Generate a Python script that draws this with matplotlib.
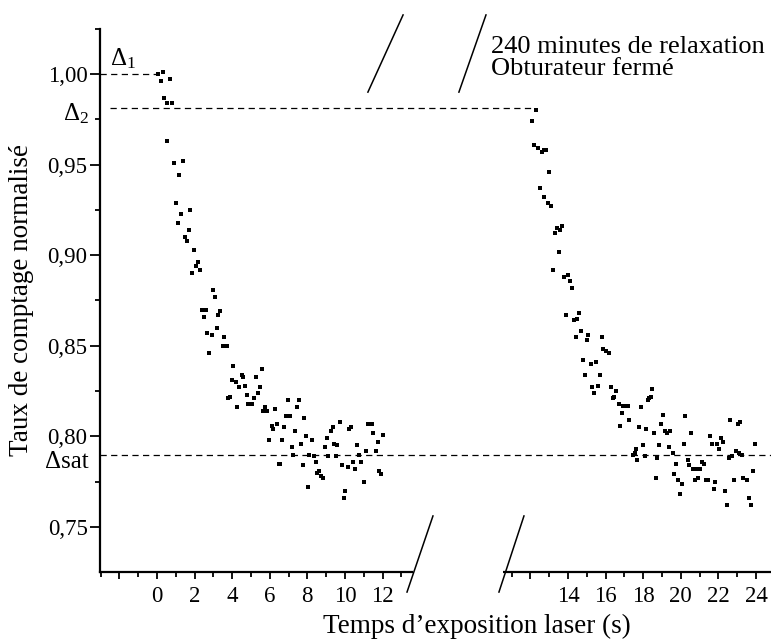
import numpy as np
import matplotlib
matplotlib.use("Agg")
import matplotlib.pyplot as plt
from matplotlib.ticker import FixedLocator, FixedFormatter

plt.rcParams['font.family'] = ['Liberation Serif', 'DejaVu Serif']
plt.rcParams['mathtext.fontset'] = 'custom'
plt.rcParams['mathtext.rm'] = 'Liberation Serif'
plt.rcParams['mathtext.it'] = 'Liberation Serif:italic'

# first exposure (s, normalised count rate)
x_first = [0.07, 0.30, 0.20, 0.69, 0.39, 0.55, 0.78, 0.51, 0.89, 1.40, 1.19, 0.99, 1.77, 1.28,
           1.10, 1.68, 1.49, 1.58, 1.99, 2.18, 2.07, 2.29, 1.88, 2.98, 3.09, 2.39, 2.59, 2.48,
           3.33, 3.26, 3.17, 2.68, 2.91, 3.56, 2.78, 3.49, 3.71, 4.06, 5.57, 3.97, 4.20, 4.50,
           4.59, 5.27, 4.68, 4.38, 5.48, 5.39, 4.77, 3.79, 3.88, 5.16, 4.86, 5.04, 4.27, 5.66,
           5.83, 5.74, 6.28, 6.98, 7.55, 7.46, 6.86, 7.07, 7.84, 6.10, 6.15, 6.37, 6.76, 7.34,
           5.96, 6.66, 7.93, 8.24, 7.16, 7.66, 7.25, 8.10, 8.37, 6.49, 6.54, 7.77, 8.44, 8.63,
           8.53, 8.71, 8.85, 8.05, 9.73, 9.34, 9.27, 9.03, 8.94, 9.41, 9.59, 9.11, 9.52, 10.30,
           10.23, 10.62, 10.73, 11.12, 9.86, 10.14, 10.44, 10.53, 10.84, 10.99, 10.02, 9.95,
           11.24, 11.42, 11.51, 12.00, 11.74, 11.63, 11.83, 11.91]
y_first = [1.000, 1.001, 0.996, 0.997, 0.987, 0.984, 0.984, 0.963, 0.951, 0.952, 0.944, 0.929,
           0.925, 0.923, 0.918, 0.914, 0.910, 0.908, 0.903, 0.896, 0.894, 0.892, 0.890, 0.881,
           0.877, 0.870, 0.870, 0.866, 0.869, 0.867, 0.860, 0.857, 0.856, 0.855, 0.846, 0.850,
           0.850, 0.839, 0.837, 0.831, 0.830, 0.834, 0.833, 0.833, 0.828, 0.827, 0.827, 0.824,
           0.823, 0.821, 0.822, 0.821, 0.818, 0.818, 0.816, 0.814, 0.814, 0.816, 0.815, 0.820,
           0.820, 0.816, 0.811, 0.811, 0.810, 0.806, 0.804, 0.807, 0.805, 0.803, 0.798, 0.798,
           0.800, 0.798, 0.794, 0.796, 0.790, 0.790, 0.789, 0.785, 0.785, 0.784, 0.786, 0.781,
           0.780, 0.778, 0.777, 0.772, 0.808, 0.805, 0.803, 0.799, 0.794, 0.796, 0.795, 0.789,
           0.789, 0.805, 0.804, 0.795, 0.790, 0.792, 0.784, 0.783, 0.786, 0.782, 0.786, 0.775,
           0.770, 0.766, 0.807, 0.807, 0.802, 0.801, 0.797, 0.792, 0.781, 0.779]

# second exposure, after 240 min of relaxation
x_second = [12.30, 12.10, 12.19, 12.42, 12.60, 12.83, 12.72, 13.01, 12.51, 12.71, 12.92, 13.10,
            13.40, 13.66, 13.57, 13.31, 13.50, 13.19, 13.79, 13.98, 14.09, 14.21, 13.88, 14.59,
            14.48, 14.30, 14.69, 14.41, 15.05, 15.79, 14.99, 15.88, 16.02, 16.20, 14.78, 15.21,
            15.47, 14.90, 15.70, 15.29, 15.58, 15.40, 16.27, 16.55, 16.41, 16.46, 16.71, 17.03,
            17.21, 16.94, 16.87, 16.78, 17.26, 17.87, 18.45, 18.32, 18.41, 18.27, 17.78, 18.15,
            18.57, 19.07, 18.96, 19.18, 19.43, 19.29, 17.97, 17.64, 17.55, 17.46, 17.69, 18.10,
            18.86, 18.75, 19.36, 19.57, 18.66, 20.24, 20.54, 20.15, 19.76, 19.65, 19.87, 20.06,
            19.96, 20.37, 20.45, 20.63, 20.85, 21.02, 20.76, 20.94, 21.14, 21.25, 21.32, 21.43,
            21.75, 21.84, 21.55, 21.64, 21.94, 22.05, 22.15, 22.26, 22.63, 23.06, 23.16, 22.94,
            23.11, 23.24, 22.56, 22.72, 23.93, 22.33, 22.44, 22.83, 23.33, 23.50, 23.84, 23.63,
            23.73]
y_second = [0.980, 0.974, 0.961, 0.959, 0.957, 0.958, 0.958, 0.946, 0.937, 0.932, 0.929, 0.927,
            0.915, 0.916, 0.914, 0.912, 0.902, 0.892, 0.888, 0.889, 0.886, 0.882, 0.867, 0.868,
            0.865, 0.864, 0.858, 0.855, 0.856, 0.855, 0.853, 0.848, 0.847, 0.846, 0.842, 0.840,
            0.841, 0.834, 0.834, 0.827, 0.828, 0.824, 0.827, 0.825, 0.821, 0.822, 0.818, 0.817,
            0.817, 0.817, 0.813, 0.806, 0.809, 0.816, 0.826, 0.821, 0.822, 0.820, 0.805, 0.804,
            0.802, 0.812, 0.807, 0.803, 0.803, 0.802, 0.795, 0.793, 0.791, 0.790, 0.787, 0.789,
            0.795, 0.788, 0.794, 0.791, 0.777, 0.811, 0.802, 0.796, 0.785, 0.779, 0.776, 0.774,
            0.768, 0.787, 0.784, 0.782, 0.782, 0.782, 0.776, 0.777, 0.786, 0.785, 0.776, 0.776,
            0.771, 0.775, 0.800, 0.796, 0.796, 0.793, 0.799, 0.797, 0.809, 0.807, 0.808, 0.792,
            0.791, 0.790, 0.788, 0.789, 0.796, 0.770, 0.762, 0.776, 0.777, 0.776, 0.781, 0.766,
            0.762]

delta_1 = 1.000
delta_2 = 0.981
delta_sat = 0.790
delta_2_end = 12.14  # where the Δ2 line stops, second-exposure time

x_ticks_first = [-2, 0, 2, 4, 6, 8, 10, 12]
x_labels_first = ['', '0', '2', '4', '6', '8', '10', '12']
x_ticks_second = [12, 14, 16, 18, 20, 22, 24]
x_labels_second = ['', '14', '16', '18', '20', '22', '24']
y_ticks = [0.75, 0.80, 0.85, 0.90, 0.95, 1.00]
y_labels = ['0,75', '0,80', '0,85', '0,90', '0,95', '1,00']

# the second exposure is drawn shifted right to leave the break in the axis
GAP = 7.86
XMIN, XMAX = -3.03, 24.8 + GAP
YMIN, YMAX = 0.725, 1.025
AXIS_END_FIRST = 13.56
AXIS_START_SECOND = 10.54 + GAP

fig = plt.figure(figsize=(7.71, 6.41), dpi=100)
ax = fig.add_axes([100 / 771, 68.7 / 641, 671 / 771, 543.6 / 641])

xs = np.array(x_second) + GAP
ax.plot(x_first, y_first, 's', color='black', ms=2.9, mew=0)
ax.plot(xs, y_second, 's', color='black', ms=2.9, mew=0)

dash = dict(color='black', lw=0.9, linestyle=(0, (5, 3.5)))
ax.hlines(delta_1, XMIN, 0, **dash)
ax.hlines(delta_2, -2.5, delta_2_end + GAP, **dash)
ax.axhline(delta_sat, **dash)

ax.set_xlim(XMIN, XMAX)
ax.set_ylim(YMIN, YMAX)

major_x = x_ticks_first + [t + GAP for t in x_ticks_second]
minor_x = list(range(-3, 14, 2)) + [t + GAP for t in range(11, 25, 2)]
ax.xaxis.set_major_locator(FixedLocator(major_x))
ax.xaxis.set_major_formatter(FixedFormatter(x_labels_first + x_labels_second))
ax.xaxis.set_minor_locator(FixedLocator(minor_x))
ax.yaxis.set_major_locator(FixedLocator(y_ticks))
ax.yaxis.set_major_formatter(FixedFormatter(y_labels))
ax.yaxis.set_minor_locator(FixedLocator(np.arange(0.775, 1.03, 0.05)))

ax.tick_params(axis='y', which='major', length=7, width=1.3, labelsize=16.5, pad=2)
ax.tick_params(axis='y', which='minor', length=3.6, width=1.3)
ax.tick_params(axis='x', which='major', length=5, width=1.3, labelsize=16.5, pad=5)
ax.tick_params(axis='x', which='minor', length=3.6, width=1.3)

for s in ['top', 'right']:
    ax.spines[s].set_visible(False)
ax.spines['left'].set_linewidth(1.6)
ax.spines['bottom'].set_linewidth(1.6)
ax.spines['bottom'].set_bounds(XMIN, AXIS_END_FIRST)
ax.plot([AXIS_START_SECOND, XMAX], [0, 0], color='black', lw=1.6,
        transform=ax.get_xaxis_transform(), clip_on=False, solid_capstyle='butt')

# break marks
slashes = [((11.22, 13.09), (0.990, 1.0326)), ((16.06, 17.50), (0.990, 1.0326)),
           ((13.30, 14.68), (0.7141, 0.7561)), ((18.19, 19.52), (0.7141, 0.7561))]
for sx, sy in slashes:
    ax.plot(sx, sy, color='black', lw=1.1, clip_on=False)

ax.text(-2.5, 1.005, r'$\Delta_1$', fontsize=18, va='baseline')
ax.text(-3.6, 0.978, r'$\Delta_2$', fontsize=18, ha='right', va='center')
ax.text(-3.65, 0.786, 'Δsat', fontsize=18, ha='right', va='center')
ax.text(17.77, 1.0088, '240 minutes de relaxation\nObturateur fermé', fontsize=19,
        va='center', ha='left', linespacing=1.0)

ax.set_ylabel('Taux de comptage normalisé', fontsize=19.5, labelpad=10)
ax.set_xlabel('Temps d’exposition laser (s)', fontsize=19.5, va='top')
ax.xaxis.set_label_coords(0.562, -0.076)

fig.savefig('out.png', dpi=100)
